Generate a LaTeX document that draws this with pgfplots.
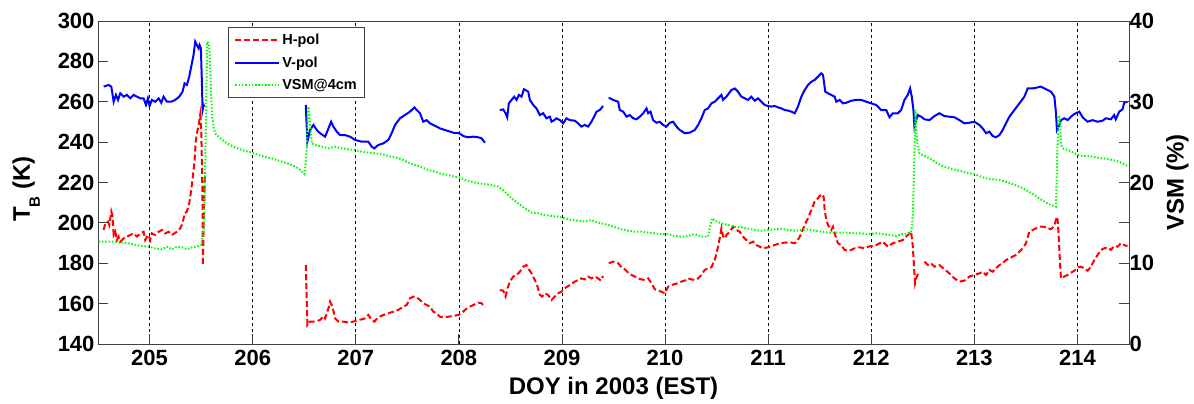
\documentclass[border=0pt]{standalone}
\usepackage{fontspec}
\setmainfont{Liberation Sans}[UprightFont={* Bold}, BoldFont={* Bold}]
\usepackage{pgfplots}
\pgfplotsset{compat=1.18}

\definecolor{hpol}{RGB}{255,0,0}
\definecolor{vpol}{RGB}{0,0,255}
\definecolor{vsm}{RGB}{0,255,0}

\tikzset{
  hline/.style={color=hpol, line width=2pt, dash pattern=on 6pt off 3pt},
  vline/.style={color=vpol, line width=2pt},
  gline/.style={color=vsm, line width=2pt, dash pattern=on 1.5pt off 1.8pt},
}

\pgfplotsset{
  tbase/.style={
    scale only axis, width=1031pt, height=323pt,
    xmin=204.5, xmax=214.5,
    axis line style={black!75, line width=0.8pt},
    every tick/.style={black!75, line width=0.8pt},
    major tick length=10pt,
    tick align=inside,
    tick label style={font=\fontsize{22}{24}\selectfont},
    /pgf/number format/assume math mode=true,
    /pgf/number format/1000 sep={},
    label style={font=\fontsize{24}{28}\selectfont},
  },
  legend image code/.code={\draw[#1] (0pt,0pt) -- (44pt,0pt);},
}

\begin{document}
\begin{tikzpicture}
% brightness temperatures (left axis)
\begin{axis}[tbase,
  ymin=140, ymax=300, ytick={140,160,...,300}, ytick pos=left,
  xtick={205,...,214}, xtick pos=bottom,
  xmajorgrids, grid style={black, dash pattern=on 3pt off 3pt, line width=0.7pt},
  xticklabel style={yshift=-3pt},
  xlabel={DOY in 2003 (EST)},
  xlabel style={at={([yshift=-51pt]rel axis cs:0.5,0)}, anchor=base},
  ylabel={T\raisebox{-10pt}{\fontsize{15}{15}\selectfont B} (K)},
  ylabel style={at={([xshift=-68pt]rel axis cs:0,0.48)}, anchor=base},
  legend style={at={(rel axis cs:0.126,0.981)}, anchor=north west,
    draw=black!75, line width=0.8pt,
    font=\fontsize{14.5}{17}\selectfont,
    inner xsep=6pt, inner ysep=4pt, row sep=7pt},
  legend cell align=left,
]
\addlegendimage{hline}\addlegendentry{H-pol}
\addlegendimage{vline}\addlegendentry{V-pol}
\addlegendimage{gline}\addlegendentry{VSM@4cm}

% H-pol
\addplot[hline, forget plot] coordinates {
(204.555,196.5) (204.571,199.8) (204.597,200.6) (204.61,198.9) (204.629,205.6) (204.642,203.1) (204.652,194.0) (204.668,195.6) (204.684,191.5) (204.7,193.2) (204.716,190.7) (204.749,192.3) (204.781,193.2) (204.813,194.0) (204.845,194.8) (204.878,193.2) (204.91,194.8) (204.942,195.6) (204.958,191.5) (204.975,193.2) (204.991,194.0) (205.007,191.5) (205.023,194.8) (205.055,194.0) (205.088,195.6) (205.12,196.5) (205.152,194.8) (205.185,195.6) (205.217,194.0) (205.265,195.6) (205.298,197.3) (205.32,199.8) (205.34,204.7) (205.362,205.6) (205.385,209.7) (205.404,216.3) (205.42,222.9) (205.437,231.1) (205.449,241.1) (205.466,246.0) (205.482,250.3) (205.491,253.5) (205.501,246.0) (205.508,229.5) (205.514,209.7) (205.517,179.0) (205.524,196.5) (205.53,209.7) (205.537,224.5)
};
\addplot[hline, forget plot] coordinates {
(206.515,179.1) (206.531,149.4) (206.557,151.1) (206.606,151.1) (206.654,151.9) (206.687,153.9) (206.703,152.7) (206.735,157.7) (206.751,161.0) (206.774,158.5) (206.8,152.7) (206.832,151.1) (206.88,151.1) (206.929,150.6) (206.977,151.1) (207.026,151.9) (207.058,152.2) (207.09,152.7) (207.122,154.4) (207.154,151.9) (207.18,151.1) (207.219,153.2) (207.268,154.4) (207.316,155.2) (207.364,156.0) (207.413,156.9) (207.461,158.5) (207.494,159.3) (207.526,162.6) (207.558,163.5) (207.591,163.1) (207.623,161.8) (207.655,160.2) (207.687,159.3) (207.72,158.5) (207.752,156.0) (207.784,155.2) (207.817,153.5) (207.849,153.2) (207.897,153.5) (207.946,153.9) (207.994,154.4) (208.027,155.2) (208.059,156.9) (208.107,158.5) (208.14,159.3) (208.188,160.5) (208.22,160.2) (208.253,158.2)
};
\addplot[hline, forget plot] coordinates {
(208.398,166.8) (208.43,166.4) (208.453,163.5) (208.472,167.6) (208.495,170.9) (208.527,173.4) (208.56,174.2) (208.592,175.8) (208.624,178.3) (208.656,179.1) (208.673,177.5) (208.705,175.0) (208.737,171.7) (208.763,168.4) (208.786,164.3) (208.808,163.5) (208.834,165.1) (208.866,164.3) (208.899,161.8) (208.931,163.5) (208.963,165.1) (208.996,165.9) (209.028,167.6) (209.076,169.2) (209.125,170.9) (209.157,171.7) (209.189,172.5) (209.222,172.0) (209.254,173.4) (209.286,172.5) (209.319,173.4) (209.351,172.5) (209.377,171.4) (209.399,173.7)
};
\addplot[hline, forget plot] coordinates {
(209.454,180.0) (209.496,180.8) (209.545,180.0) (209.578,178.0) (209.61,177.0) (209.642,175.3) (209.674,174.2) (209.707,173.4) (209.739,172.5) (209.771,172.0) (209.804,171.7) (209.836,172.5) (209.868,170.1) (209.901,167.1) (209.933,166.4) (209.965,165.9) (209.997,165.1) (210.03,168.4) (210.062,169.2) (210.094,169.7) (210.127,170.1) (210.159,170.9) (210.191,171.4) (210.224,172.5) (210.256,172.0) (210.288,171.7) (210.321,172.5) (210.353,174.2) (210.385,176.7) (210.417,177.5) (210.45,178.0) (210.466,180.0) (210.482,181.6) (210.498,184.9) (210.514,188.2) (210.53,192.3) (210.547,197.3) (210.563,193.2) (210.579,192.3) (210.595,194.0) (210.627,195.6) (210.66,198.1) (210.692,196.5) (210.724,195.6) (210.756,193.2) (210.789,191.5) (210.821,189.9) (210.853,190.7) (210.886,189.0) (210.918,188.2) (210.95,187.4) (210.999,187.9) (211.031,188.5) (211.063,189.0) (211.112,189.9) (211.16,190.2) (211.209,190.4) (211.257,189.9) (211.289,191.5) (211.322,194.8) (211.354,199.0) (211.386,202.3) (211.419,206.4) (211.451,210.5) (211.483,212.2) (211.515,214.3) (211.538,213.0) (211.548,206.4) (211.564,201.4) (211.58,199.0) (211.612,196.5) (211.629,198.1) (211.645,194.8) (211.661,192.3) (211.677,189.9) (211.709,189.0) (211.742,186.6) (211.774,186.2) (211.806,186.6) (211.839,187.4) (211.887,187.9) (211.935,187.4) (211.968,188.2) (212.0,188.5) (212.048,189.0) (212.112,190.7) (212.161,188.2) (212.209,189.9) (212.258,190.7) (212.306,191.5) (212.354,194.0) (212.387,195.6) (212.403,188.2) (212.413,180.0) (212.425,170.1) (212.441,173.4) (212.458,175.0)
};
\addplot[hline, forget plot] coordinates {
(212.516,180.8) (212.548,179.1) (212.58,180.0) (212.613,178.3) (212.661,179.1) (212.71,177.0) (212.758,175.0) (212.807,172.5) (212.855,170.9) (212.904,171.4) (212.952,173.4) (213.0,174.2) (213.049,175.0) (213.081,175.8) (213.114,174.2) (213.146,176.7) (213.178,175.8) (213.21,177.5) (213.243,179.1) (213.275,180.0) (213.307,181.6) (213.34,182.4) (213.372,183.3) (213.404,184.1) (213.437,185.7) (213.469,187.4) (213.501,189.9) (213.533,195.6) (213.566,196.5) (213.598,197.3) (213.63,198.1) (213.662,198.1) (213.695,197.8) (213.743,196.8) (213.776,198.5) (213.798,203.0) (213.808,201.4) (213.818,193.2) (213.831,180.0) (213.84,172.5) (213.872,173.4) (213.905,174.2) (213.937,175.3) (213.969,176.3) (214.002,178.0) (214.034,178.3) (214.066,177.5) (214.098,176.3) (214.131,178.3) (214.163,181.6) (214.195,184.1) (214.228,186.6) (214.26,187.4) (214.292,187.9) (214.324,186.6) (214.356,188.5) (214.389,188.2) (214.421,189.9) (214.453,189.0) (214.485,188.5)
};

% V-pol
\addplot[vline, forget plot] coordinates {
(204.555,267.5) (204.603,268.3) (204.629,267.5) (204.652,260.0) (204.674,263.4) (204.694,260.9) (204.716,264.2) (204.749,262.5) (204.781,263.4) (204.813,261.7) (204.845,263.4) (204.878,262.5) (204.91,261.7) (204.942,261.7) (204.965,258.4) (204.984,261.7) (205.0,257.9) (205.023,260.9) (205.055,260.0) (205.088,261.7) (205.114,259.5) (205.136,262.5) (205.168,260.0) (205.21,260.0) (205.249,260.9) (205.288,262.5) (205.32,265.0) (205.34,269.1) (205.362,268.3) (205.385,272.4) (205.404,277.4) (205.427,283.2) (205.443,289.8) (205.459,288.1) (205.475,286.5) (205.485,288.1) (205.498,286.5) (205.508,269.1) (205.514,255.9) (205.524,258.4) (205.533,257.6)
};
\addplot[vline, forget plot] coordinates {
(206.515,258.4) (206.531,240.2) (206.557,246.0) (206.59,248.5) (206.622,246.0) (206.654,244.4) (206.703,242.7) (206.735,246.8) (206.761,250.1) (206.783,247.7) (206.816,245.2) (206.848,243.5) (206.896,243.5) (206.945,242.7) (206.993,241.1) (207.058,240.2) (207.122,240.2) (207.154,237.8) (207.18,236.9) (207.219,238.6) (207.268,239.4) (207.316,241.1) (207.348,244.4) (207.381,248.5) (207.429,251.8) (207.477,253.4) (207.526,255.1) (207.568,257.2) (207.591,255.9) (207.623,254.3) (207.655,250.1) (207.687,250.9) (207.72,249.3) (207.752,248.5) (207.784,247.7) (207.817,246.8) (207.865,246.0) (207.914,245.2) (207.962,244.4) (208.004,244.4) (208.043,243.0) (208.091,242.4) (208.14,242.7) (208.188,242.4) (208.22,241.9) (208.253,239.7)
};
\addplot[vline, forget plot] coordinates {
(208.398,255.9) (208.43,256.2) (208.453,254.3) (208.469,252.3) (208.485,259.2) (208.511,260.9) (208.537,262.5) (208.56,260.9) (208.582,263.4) (208.608,262.5) (208.631,266.2) (208.656,265.5) (208.673,265.0) (208.689,260.9) (208.721,258.4) (208.753,256.7) (208.786,253.4) (208.818,254.3) (208.85,251.8) (208.883,252.6) (208.899,250.1) (208.925,250.9) (208.947,251.8) (208.979,250.9) (209.012,249.3) (209.044,251.8) (209.076,250.9) (209.125,250.6) (209.157,249.3) (209.189,247.7) (209.222,248.5) (209.254,247.7) (209.286,250.1) (209.312,252.6) (209.335,255.1) (209.367,255.9) (209.399,257.9)
};
\addplot[vline, forget plot] coordinates {
(209.454,262.0) (209.496,260.9) (209.545,260.0) (209.561,255.9) (209.594,255.1) (209.626,252.6) (209.658,253.4) (209.691,251.8) (209.723,251.3) (209.755,252.6) (209.788,254.3) (209.82,256.7) (209.836,254.3) (209.859,255.1) (209.884,250.9) (209.917,249.6) (209.949,250.1) (209.981,248.5) (210.014,247.7) (210.046,249.6) (210.078,250.1) (210.111,247.7) (210.143,246.0) (210.191,244.4) (210.24,244.7) (210.288,246.0) (210.321,248.5) (210.353,251.8) (210.385,255.9) (210.417,256.7) (210.45,259.2) (210.482,260.0) (210.514,261.7) (210.547,263.4) (210.563,260.9) (210.595,262.5) (210.643,265.8) (210.676,266.6) (210.708,265.0) (210.74,262.5) (210.773,261.7) (210.805,260.9) (210.837,262.5) (210.87,260.5) (210.902,261.7) (210.934,260.0) (210.966,258.4) (210.999,257.9) (211.031,257.6) (211.063,257.9) (211.096,257.2) (211.128,256.7) (211.16,255.9) (211.193,255.6) (211.225,255.1) (211.257,254.3) (211.289,257.6) (211.322,262.5) (211.354,265.8) (211.386,268.3) (211.419,269.9) (211.451,270.8) (211.483,272.4) (211.515,274.1) (211.532,273.3) (211.554,265.0) (211.58,264.2) (211.612,263.4) (211.645,262.5) (211.661,260.0) (211.693,260.9) (211.725,259.2) (211.758,259.5) (211.806,260.5) (211.855,260.9) (211.903,260.9) (211.952,260.0) (212.0,259.2) (212.048,258.4) (212.096,255.9) (212.145,255.9) (212.177,252.3) (212.209,254.3) (212.258,254.3) (212.29,255.9) (212.322,260.9) (212.354,263.4) (212.377,266.6) (212.393,262.5) (212.409,255.9) (212.419,247.7) (212.435,250.9) (212.451,253.4) (212.484,252.6) (212.516,251.3) (212.564,250.9) (212.613,252.9) (212.661,254.3) (212.71,252.9) (212.758,252.6) (212.807,252.3) (212.855,250.9) (212.904,249.3) (212.952,249.6) (213.0,250.1) (213.049,248.5) (213.081,246.8) (213.114,244.4) (213.146,245.2) (213.178,243.0) (213.21,242.4) (213.243,243.5) (213.275,246.0) (213.307,249.3) (213.34,252.6) (213.388,255.9) (213.437,259.2) (213.485,262.5) (213.517,266.6) (213.566,266.6) (213.614,267.1) (213.646,267.5) (213.695,266.2) (213.743,265.0) (213.776,262.5) (213.792,254.3) (213.801,246.0) (213.818,247.7) (213.84,250.9) (213.872,251.8) (213.905,250.9) (213.937,252.6) (213.969,253.9) (214.018,255.1) (214.05,252.3) (214.098,250.1) (214.147,250.9) (214.195,250.1) (214.243,250.6) (214.276,251.8) (214.324,251.3) (214.356,253.4) (214.372,251.3) (214.405,255.1) (214.437,256.2) (214.453,259.5) (214.485,260.0)
};
\end{axis}

% volumetric soil moisture (right axis)
\begin{axis}[tbase,
  ymin=0, ymax=40, ytick={0,5,...,40}, yticklabels={0,,10,,20,,30,,40},
  axis y line*=right, axis x line=none,
  yticklabel style={xshift=-3pt},
  ylabel={VSM (\%)},
  ylabel style={at={([xshift=54.5pt]rel axis cs:1,0.5)}, anchor=base},
]
\addplot[gline] coordinates {
(204.506,12.67) (204.603,12.67) (204.668,12.67) (204.732,12.55) (204.797,12.47) (204.862,12.26) (204.926,12.14) (204.991,12.05) (205.055,11.85) (205.12,11.72) (205.168,12.05) (205.217,11.72) (205.265,12.05) (205.314,11.97) (205.362,11.72) (205.411,11.97) (205.459,12.05) (205.501,12.26) (205.524,14.12) (205.533,18.25) (205.54,22.37) (205.55,30.63) (205.559,37.44) (205.572,37.23) (205.582,36.41) (205.592,32.69) (205.605,28.56) (205.621,26.91) (205.637,26.09) (205.685,25.47) (205.75,24.85) (205.814,24.44) (205.895,24.02) (205.992,23.69) (206.089,23.28) (206.186,22.99) (206.283,22.58) (206.38,22.17) (206.444,21.75) (206.502,21.05) (206.515,22.37) (206.525,24.23) (206.535,28.98) (206.544,29.39) (206.557,27.33) (206.573,24.85) (206.606,24.64) (206.67,24.44) (206.735,24.23) (206.8,24.44) (206.864,24.23) (206.929,24.11) (206.993,24.02) (207.058,23.82) (207.122,23.69) (207.187,23.61) (207.251,23.53) (207.316,23.28) (207.381,23.12) (207.445,22.87) (207.51,22.46) (207.574,22.17) (207.639,21.88) (207.704,21.55) (207.768,21.34) (207.833,21.05) (207.897,20.93) (207.962,20.72) (208.004,20.64) (208.059,20.31) (208.123,20.10) (208.188,19.90) (208.253,19.81) (208.317,19.69) (208.382,19.48) (208.446,18.86) (208.511,18.04) (208.576,17.42) (208.64,16.80) (208.705,16.26) (208.769,16.18) (208.834,15.97) (208.899,15.85) (208.963,15.77) (209.028,15.56) (209.092,15.35) (209.157,15.27) (209.222,15.15) (209.286,15.35) (209.351,15.03) (209.415,14.86) (209.48,14.61) (209.578,14.2) (209.642,14.03) (209.707,13.91) (209.771,13.91) (209.836,13.79) (209.901,13.70) (209.965,13.62) (210.03,13.62) (210.094,13.37) (210.159,13.29) (210.224,13.37) (210.288,13.62) (210.353,13.29) (210.417,13.29) (210.434,14.32) (210.456,15.56) (210.482,15.27) (210.547,14.94) (210.611,14.74) (210.676,14.53) (210.74,14.45) (210.805,14.28) (210.87,14.12) (210.934,14.03) (210.999,14.12) (211.063,14.2) (211.128,14.28) (211.193,14.12) (211.257,14.03) (211.322,14.12) (211.386,14.2) (211.451,14.03) (211.515,13.91) (211.58,13.79) (211.645,13.79) (211.709,13.79) (211.774,13.79) (211.839,13.70) (211.903,13.70) (211.968,13.62) (212.048,13.70) (212.112,13.62) (212.177,13.50) (212.241,13.37) (212.306,13.62) (212.354,13.70) (212.387,13.91) (212.403,15.77) (212.413,20.31) (212.422,25.26) (212.429,29.0) (212.435,26.50) (212.451,24.44) (212.467,23.61) (212.5,23.40) (212.564,22.99) (212.629,22.46) (212.694,22.04) (212.758,21.75) (212.823,21.55) (212.887,21.34) (212.952,21.14) (213.0,21.05) (213.049,20.80) (213.114,20.51) (213.178,20.39) (213.243,20.31) (213.307,20.10) (213.372,19.81) (213.437,19.48) (213.501,19.07) (213.566,18.58) (213.63,18.04) (213.695,17.5) (213.743,17.21) (213.792,17.0) (213.798,20.31) (213.808,25.26) (213.818,28.3) (213.831,27.74) (213.84,24.85) (213.856,24.23) (213.921,23.94) (213.986,23.53) (214.05,23.28) (214.115,23.28) (214.179,23.12) (214.243,22.99) (214.308,22.87) (214.372,22.70) (214.437,22.37) (214.485,22.04)
};
\end{axis}
\path ([xshift=-98pt,yshift=-58pt]current axis.south west) rectangle ([xshift=65pt,yshift=21pt]current axis.north east);
\end{tikzpicture}
\end{document}
